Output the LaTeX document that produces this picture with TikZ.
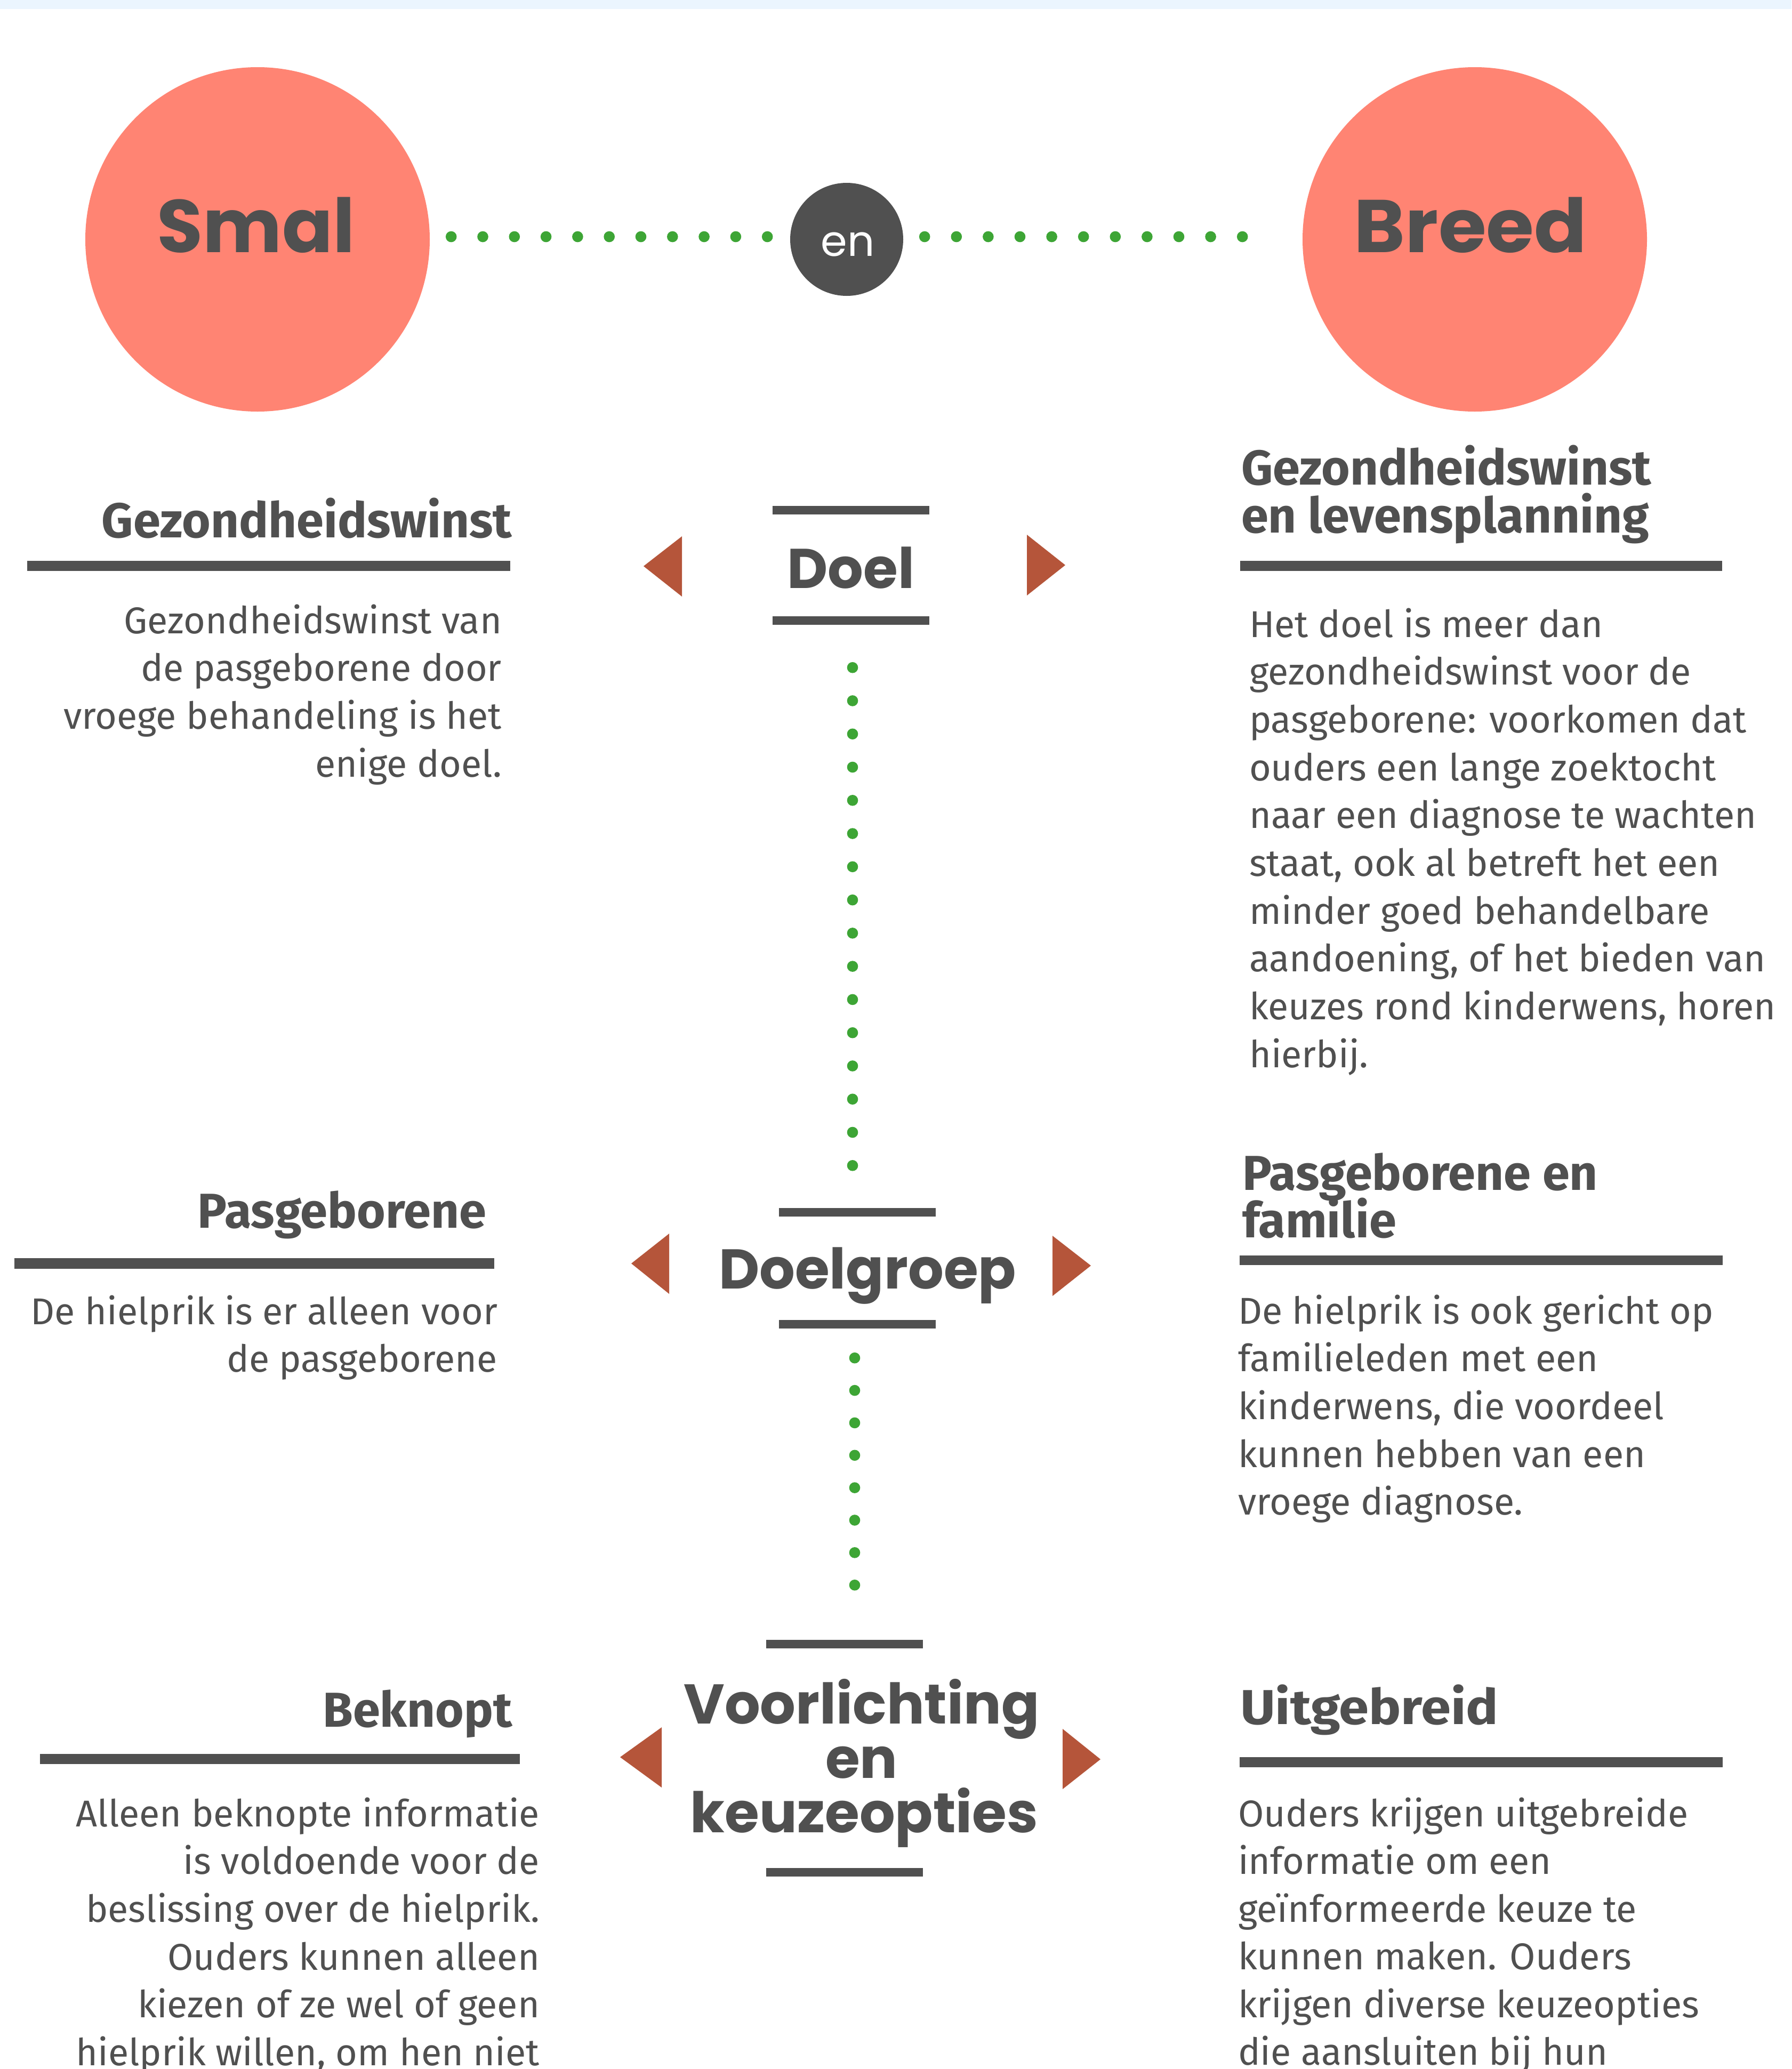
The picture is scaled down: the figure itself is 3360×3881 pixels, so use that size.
\documentclass[tikz,border=0pt]{standalone}
\usepackage{fontspec}
\setmainfont{Fira Sans}
\newfontfamily\popfont{Poppins}
\definecolor{coral}{HTML}{FF8473}
\definecolor{darkg}{HTML}{505050}
\definecolor{dotg}{HTML}{3DA535}
\definecolor{trired}{HTML}{B5553A}
\definecolor{band}{HTML}{EBF5FE}
\tikzset{
  txt/.style={text=darkg, inner sep=0pt, outer sep=0pt},
  bigword/.style={txt, font=\popfont\bfseries\fontsize{140}{140}\selectfont},
  entxt/.style={inner sep=0pt, text=white, font=\popfont\fontsize{80}{80}\selectfont},
  ctitle/.style={txt, font=\popfont\bfseries\fontsize{105}{105}\selectfont},
  head/.style={txt, font=\bfseries\fontsize{92}{92}\selectfont},
  body/.style={txt, font=\fontsize{70}{90}\selectfont},
  bigcirc/.style={circle, fill=coral, minimum size=646pt, inner sep=0pt},
  cbar/.style={fill=darkg, inner sep=0pt, minimum width=294pt, minimum height=16pt},
  tri/.style={fill=trired},
  dotrow/.style={draw=dotg, line width=20.6pt, line cap=round, dash pattern=on 0pt off #1},
}
\begin{document}
\begin{tikzpicture}[x=1pt,y=-1pt]
\useasboundingbox (0,0) rectangle (3360,3881);
\clip (0,0) rectangle (3360,3881);
\fill[white] (0,0) rectangle (3360,3881);
\fill[band] (0,0) rectangle (3360,17);

% top row
\node[bigcirc] (smal) at (483,449) {};
\node[bigcirc] (breed) at (2766,449) {};
\node[circle, fill=darkg, minimum size=212pt, inner sep=0pt] (en) at (1588,449) {};
\node[bigword, anchor=base] (smalt) at (480,473) {Smal};
\node[bigword, anchor=base] (breedt) at (2758,473) {\scalebox{1.04}[1]{Breed}};
\node[entxt, anchor=base] (ent) at (1590,480) {en};
\draw[dotrow=59.3pt, shorten <=40pt, shorten >=42pt] ([yshift=5pt]smal.east) -- ([yshift=5pt]en.west);
\draw[dotrow=59.6pt, shorten <=40pt, shorten >=112pt] ([yshift=5pt]en.east) -- ([yshift=5pt]breed.west);

% centre column
\node[cbar] (b1t) at (1596,957) {};
\node[cbar] (b1b) at (1596,1164) {};
\node[cbar] (b2t) at (1608,2273.5) {};
\node[cbar] (b2b) at (1608,2483.5) {};
\node[cbar] (b3t) at (1584,3083.5) {};
\node[cbar] (b3b) at (1584,3512) {};
\node[ctitle, anchor=base] (doel) at (1596,1103) {Doel};
\node[ctitle, anchor=base] (doelgroep) at (1627,2417) {Doelgroep};
\node[ctitle, anchor=base] (voor1) at (1616,3233) {Voorlichting};
\node[ctitle, anchor=base] (voor2) at (1616,3335) {en};
\node[ctitle, anchor=base] (voor3) at (1621,3437) {keuzeopties};
\draw[dotrow=62.27pt, shorten <=80pt, shorten >=78pt] ([xshift=3pt]b1b.south) -- ([xshift=-9pt]b2t.north);
\draw[dotrow=60.86pt, shorten <=55.5pt, shorten >=101pt] ([xshift=-5pt]b2b.south) -- ([xshift=19pt]b3t.north);

% triangles
\fill[tri] (1207,1062) -- (1279,1006) -- (1279,1119) -- cycle;
\fill[tri] (1998,1060) -- (1926,1003) -- (1926,1117) -- cycle;
\fill[tri] (1184,2370) -- (1255,2314) -- (1255,2427) -- cycle;
\fill[tri] (2046,2374) -- (1974,2318) -- (1974,2431) -- cycle;
\fill[tri] (1163,3296) -- (1241,3240) -- (1241,3353) -- cycle;
\fill[tri] (2064,3300) -- (1993,3243) -- (1993,3356) -- cycle;

% heading bars
\fill[darkg] (51,1052) rectangle (957,1071);
\fill[darkg] (2326,1052) rectangle (3230,1071);
\fill[darkg] (27,2360) rectangle (927,2380);
\fill[darkg] (2325,2355) rectangle (3231,2373);
\fill[darkg] (75,3290) rectangle (975,3309);
\fill[darkg] (2325,3296) rectangle (3231,3315);

% headings
\node[head, anchor=base east] (h1l) at (960,1008) {Gezondheidswinst};
\node[head, anchor=base west] (h1r1) at (2328,909) {Gezondheidswinst};
\node[head, anchor=base west] (h1r2) at (2328,999) {en levensplanning};
\node[head, anchor=base east] (h2l) at (912,2303) {Pasgeborene};
\node[head, anchor=base west] (h2r1) at (2330,2232) {Pasgeborene en};
\node[head, anchor=base west] (h2r2) at (2330,2321) {familie};
\node[head, anchor=base east] (h3l) at (961,3239) {Beknopt};
\node[head, anchor=base west] (h3r) at (2326,3234) {\scalebox{1.1}[1]{Uitgebreid}};

% body texts
\foreach \t [count=\i] in {{Gezondheidswinst van},{de pasgeborene door},{vroege behandeling is het},{enige doel.}}
  \node[body, anchor=base east] (l1-\i) at (941,{1188+(\i-1)*89.7}) {\t};
\foreach \t [count=\i] in {{Het doel is meer dan},{gezondheidswinst voor de},{pasgeborene: voorkomen dat},{ouders een lange zoektocht},{naar een diagnose te wachten},{staat, ook al betreft het een},{minder goed behandelbare},{aandoening, of het bieden van},{keuzes rond kinderwens, horen},{hierbij.}}
  \node[body, anchor=base west] (r1-\i) at (2343,{1195+(\i-1)*89.7}) {\t};
\foreach \t [count=\i] in {{De hielprik is er alleen voor},{de pasgeborene}}
  \node[body, anchor=base east] (l2-\i) at (933,{2484+(\i-1)*89.7}) {\t};
\foreach \t [count=\i] in {{De hielprik is ook gericht op},{familieleden met een},{kinderwens, die voordeel},{kunnen hebben van een},{vroege diagnose.}}
  \node[body, anchor=base west] (r2-\i) at (2322,{2483+(\i-1)*89.7}) {\t};
\foreach \t [count=\i] in {{Alleen beknopte informatie},{is voldoende voor de},{beslissing over de hielprik.},{Ouders kunnen alleen},{kiezen of ze wel of geen},{hielprik willen, om hen niet}}
  \node[body, anchor=base east] (l3-\i) at (1012,{3426+(\i-1)*89.7}) {\t};
\foreach \t [count=\i] in {{Ouders krijgen uitgebreide},{informatie om een},{geïnformeerde keuze te},{kunnen maken. Ouders},{krijgen diverse keuzeopties},{die aansluiten bij hun}}
  \node[body, anchor=base west] (r3-\i) at (2322,{3426+(\i-1)*89.5}) {\t};
\end{tikzpicture}
\end{document}
